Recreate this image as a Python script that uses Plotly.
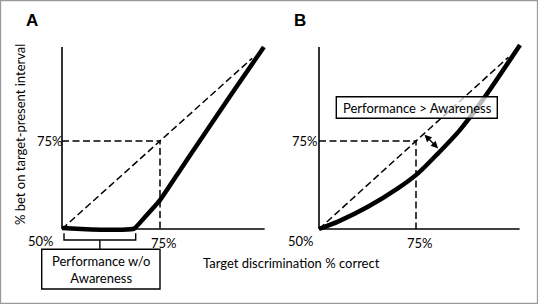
import plotly.graph_objects as go

# ---- data (percent values) ----
curve_a_x = [50, 55, 60, 65, 68.4, 71, 75, 80, 85, 90, 95, 101.5]
curve_a_y = [50.3, 50.0, 49.8, 49.8, 50.1, 53.2, 58.2, 66.5, 74.8, 83.0, 91.2, 101.7]
curve_b_x = [50, 54.9, 62.6, 70.4, 75.5, 80.7, 86.3, 92.8, 101.8]
curve_b_y = [50, 52.1, 56.3, 61.6, 65.8, 71.5, 78.1, 87.6, 102.3]
diag_a = [50, 98.5]
diag_b = [50, 98.8]
axis_end = 101.7
ref_level = 75
base_level = 50
tick_labels = ["50%", "75%"]
panel_labels = ["A", "B"]
y_title = "% bet on target-present interval"
x_title = "Target discrimination % correct"
box_a_text = "Performance w/o<br>Awareness"
box_b_text = "Performance > Awareness"
arrow_from = (76.8, 77.2)
arrow_to = (80.7, 72.9)

W, H = 538, 304
FONT = "Lato"

def pxA(v): return 62 + (v - 50) * 3.92
def pxB(v): return 319 + (v - 50) * 3.88
def py(v): return 229 - (v - 50) * 3.52
def fx(p): return p / W
def fy(p): return 1 - p / H

xr = [48.5, 102.8]
yr = [48.5, 103.2]

DASH = "7px,3.5px"

fig = go.Figure()

for xa, ya, curve_x, curve_y, diag, sm in [
    ("x", "y", curve_a_x, curve_a_y, diag_a, 0.4),
    ("x2", "y2", curve_b_x, curve_b_y, diag_b, 0.8),
]:
    # axes
    fig.add_trace(go.Scatter(x=[base_level, base_level], y=[base_level, axis_end], mode="lines",
                             line=dict(color="black", width=1.6), xaxis=xa, yaxis=ya, hoverinfo="skip"))
    fig.add_trace(go.Scatter(x=[base_level, axis_end], y=[base_level, base_level], mode="lines",
                             line=dict(color="black", width=1.6), xaxis=xa, yaxis=ya, hoverinfo="skip"))
    # diagonal
    fig.add_trace(go.Scatter(x=diag, y=diag, mode="lines",
                             line=dict(color="black", width=1.5, dash=DASH), xaxis=xa, yaxis=ya, hoverinfo="skip"))
    # 75% guides
    fig.add_trace(go.Scatter(x=[base_level, ref_level, ref_level], y=[ref_level, ref_level, base_level], mode="lines",
                             line=dict(color="black", width=1.5, dash=DASH), xaxis=xa, yaxis=ya, hoverinfo="skip"))
    # thick curve
    fig.add_trace(go.Scatter(x=curve_x, y=curve_y, mode="lines",
                             line=dict(color="black", width=4.5, shape="spline", smoothing=sm),
                             xaxis=xa, yaxis=ya, hoverinfo="skip"))

ax_common = dict(showgrid=False, zeroline=False, showline=False, showticklabels=False, ticks="", fixedrange=True)
fig.update_layout(
    width=W, height=H,
    margin=dict(l=0, r=0, t=0, b=0),
    paper_bgcolor="white", plot_bgcolor="rgba(0,0,0,0)",
    showlegend=False,
    font=dict(family=FONT, color="black", size=13),
    xaxis=dict(domain=[fx(pxA(xr[0])), fx(pxA(xr[1]))], range=xr, anchor="y", **ax_common),
    yaxis=dict(domain=[fy(py(yr[0])), fy(py(yr[1]))], range=yr, anchor="x", **ax_common),
    xaxis2=dict(domain=[fx(pxB(xr[0])), fx(pxB(xr[1]))], range=xr, anchor="y2", **ax_common),
    yaxis2=dict(domain=[fy(py(yr[0])), fy(py(yr[1]))], range=yr, anchor="x2", **ax_common),
)

shapes = []
ann = []

def label(text, px_, py_, size=13, **kw):
    d = dict(text=text, xref="paper", yref="paper", x=fx(px_), y=fy(py_), showarrow=False,
             xanchor="center", yanchor="middle", font=dict(size=size, family=kw.pop("family", FONT)))
    d.update(kw)
    return d

# frame
shapes.append(dict(type="rect", xref="paper", yref="paper", x0=0.001, y0=0.002, x1=0.999, y1=0.998,
                   line=dict(color="#9a9a9a", width=1.2)))

# panel labels
ann.append(label("<b>%s</b>" % panel_labels[0], 32, 21, size=17, family="Liberation Sans"))
ann.append(label("<b>%s</b>" % panel_labels[1], 300, 21, size=17, family="Liberation Sans"))

# axis titles
ann.append(label(y_title, 20, 135, textangle=-90))
ann.append(label(x_title, 291, 263))

# tick labels
for px_, py_, t in [
    (41, 241, tick_labels[0]), (50, 141, tick_labels[1]), (164, 243, tick_labels[1]),
    (301, 241, tick_labels[0]), (305, 141, tick_labels[1]), (420, 243, tick_labels[1]),
]:
    ann.append(label(t, px_, py_))

# bracket under panel A
l, r, top, bot, stem = 64, 135.7, 233.3, 240, 249.3
mid = (l + r) / 2
path = "M %f,%f L %f,%f L %f,%f L %f,%f M %f,%f L %f,%f" % (
    fx(l), fy(top), fx(l), fy(bot), fx(r), fy(bot), fx(r), fy(top),
    fx(mid), fy(bot), fx(mid), fy(stem))
shapes.append(dict(type="path", xref="paper", yref="paper", path=path, line=dict(color="black", width=1.4)))

# box A
shapes.append(dict(type="rect", xref="paper", yref="paper", x0=fx(41.7), x1=fx(160), y0=fy(289), y1=fy(249.3),
                   line=dict(color="black", width=1.4), fillcolor="white"))
ann.append(label(box_a_text, 101, 269.5))

# box B
shapes.append(dict(type="rect", xref="paper", yref="paper", x0=fx(336.3), x1=fx(497.3), y0=fy(118.3), y1=fy(96.7),
                   line=dict(color="black", width=1.4), fillcolor="rgba(255,255,255,0.72)", layer="above"))
ann.append(label(box_b_text, 417, 107.5))

# double arrow in panel B
ann.append(dict(text="", x=arrow_to[0], y=arrow_to[1], xref="x2", yref="y2",
                ax=arrow_from[0], ay=arrow_from[1], axref="x2", ayref="y2",
                showarrow=True, arrowhead=2, startarrowhead=2, arrowside="end+start",
                arrowsize=1.1, startarrowsize=1.1, arrowwidth=1.3, arrowcolor="black",
                standoff=0, startstandoff=0))

fig.update_layout(shapes=shapes, annotations=ann)
fig.write_html("out.html", post_script="document.body.style.margin='0';",
               config={"displayModeBar": False})
